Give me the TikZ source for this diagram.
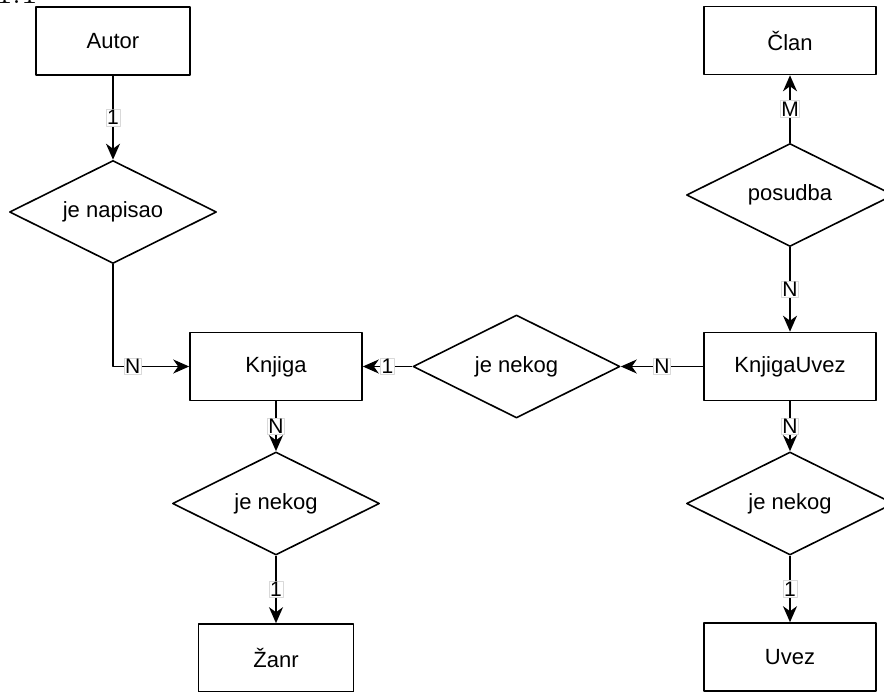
\documentclass[tikz,border=0pt]{standalone}
\usepackage{fontspec}
\setsansfont{Liberation Sans}
\usetikzlibrary{shapes.geometric,arrows.meta}

\begin{document}
\begin{tikzpicture}[x=1pt, y=-1pt, line join=round,
	>={Stealth[length=16pt,width=14pt,inset=5pt]},
	entity/.style={draw, line width=1.6pt, minimum width=172pt, minimum height=68pt, inner sep=0pt, font=\sffamily\fontsize{22}{26}\selectfont},
	relation/.style={draw, diamond, aspect=2, line width=1.6pt, minimum width=207pt, minimum height=103pt, inner sep=0pt, font=\sffamily\fontsize{22}{26}\selectfont},
	card/.style={fill=white, draw=gray!30, line width=0.6pt, inner sep=1pt, font=\sffamily\fontsize{21}{23}\selectfont},
	link/.style={->, line width=1.6pt}]
	% Page frame (picture is cut at the edges)
	\useasboundingbox (0,0) rectangle (884,692);
	
	% Section number, cut at the top
	\node[anchor=base west, inner sep=0pt, font=\fontsize{36}{36}\selectfont] (naslov) at (-4,4) {1.1};
	
	% Entities
	\node[entity, minimum width=154pt] (autor) at (113,41) {Autor};
	\node[entity] (knjiga) at (276,366.5) {Knjiga};
	\node[entity] (uvezK) at (790,366.5) {KnjigaUvez};
	\node[entity] (clan) at (790,40.5) {Član};
	\node[entity] (uvez) at (790,657) {Uvez};
	\node[entity, minimum width=155pt] (zanr) at (276,658) {Žanr};
	
	% Relations
	\node[relation] (napisao) at (113,212) {je napisao};
	\node[relation] (nekogK) at (516.5,366.5) {je nekog};
	\node[relation] (posudba) at (790,195) {posudba};
	\node[relation] (nekogU) at (790,503.5) {je nekog};
	\node[relation] (nekogZ) at (276,503.5) {je nekog};
	
	% Connections with cardinalities
	\draw[link] (autor.south) -- node[card]{1} (napisao.north);
	\draw[link] (napisao.south) |- node[card, pos=0.63]{N} (knjiga.west);
	\draw[link] (nekogK.west) -- node[card]{1} (knjiga.east);
	\draw[link] (uvezK.west) -- node[card]{N} (nekogK.east);
	\draw[link] (posudba.north) -- node[card]{M} (clan.south);
	\draw[link] (posudba.south) -- node[card]{N} (uvezK.north);
	\draw[link] (uvezK.south) -- node[card]{N} (nekogU.north);
	\draw[link] (nekogU.south) -- node[card]{1} (uvez.north);
	\draw[link] (knjiga.south) -- node[card]{N} (nekogZ.north);
	\draw[link] (nekogZ.south) -- node[card]{1} (zanr.north);
\end{tikzpicture}
\end{document}
